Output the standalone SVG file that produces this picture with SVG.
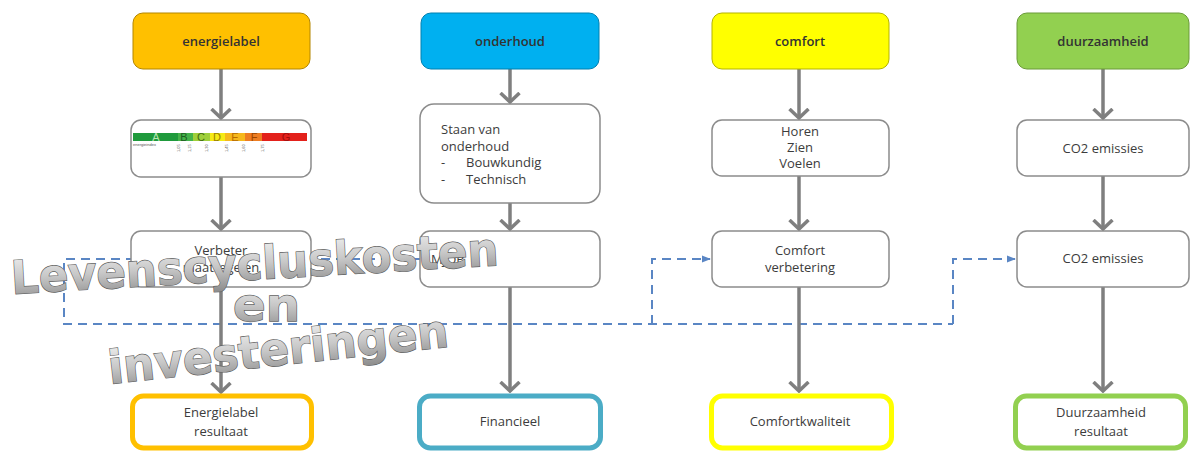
<svg xmlns="http://www.w3.org/2000/svg" width="1195" height="452" viewBox="0 0 1195 452">
<defs>
<style>
.t{font-family:"Open Sans","Liberation Sans",sans-serif;font-size:13px;fill:#3c3c3c;text-anchor:middle}
.tl{font-family:"Open Sans","Liberation Sans",sans-serif;font-size:13px;fill:#3c3c3c}
.hd{font-family:"Open Sans","Liberation Sans",sans-serif;font-size:13px;font-weight:600;fill:#333333;text-anchor:middle}
.box{fill:#ffffff;stroke:#8c8c8c;stroke-width:1.5}
.res{fill:#ffffff;stroke-width:5}
.arr{stroke:#7f7f7f;stroke-width:3.5;fill:none}
.dash{stroke:#5a86c4;stroke-width:2;stroke-dasharray:9 6;fill:none}
.wa{font-family:"DejaVu Sans","Liberation Sans",sans-serif;font-weight:bold;font-size:46px;fill:url(#wg);stroke:#5f5f5f;stroke-width:1.3;paint-order:stroke}
.num{font-family:"Liberation Sans",sans-serif;font-size:4px;fill:#555}
.lt{font-family:"Liberation Sans",sans-serif;font-size:11px;text-anchor:middle}
</style>
<linearGradient id="wg" x1="0" y1="0" x2="0" y2="1">
<stop offset="0" stop-color="#f4f4f4"/>
<stop offset="0.5" stop-color="#c8c8c8"/>
<stop offset="1" stop-color="#8a8a8a"/>
</linearGradient>
<marker id="chev" viewBox="0 0 12 22" refX="10.5" refY="11" markerWidth="12" markerHeight="22" markerUnits="userSpaceOnUse" orient="auto">
<path d="M1.5,1.5 L10.5,11 L1.5,20.5" fill="none" stroke="#7f7f7f" stroke-width="3.5"/>
</marker>
<marker id="tri" viewBox="0 0 10 10" refX="9" refY="5" markerWidth="9" markerHeight="9" markerUnits="userSpaceOnUse" orient="auto">
<path d="M0,1 L10,5 L0,9 Z" fill="#5a86c4"/>
</marker>
</defs>

<g id="connectors">
<path class="dash" d="M420,259 H64 V324 H953"/>
<path class="dash" d="M652,324 V259 H710" marker-end="url(#tri)"/>
<path class="dash" d="M953,324 V259 H1015" marker-end="url(#tri)"/>
<line class="arr" x1="221" y1="69" x2="221" y2="118" marker-end="url(#chev)"/>
<line class="arr" x1="221" y1="177" x2="221" y2="229" marker-end="url(#chev)"/>
<line class="arr" x1="221" y1="287" x2="221" y2="392" marker-end="url(#chev)"/>
<line class="arr" x1="510" y1="69" x2="510" y2="102" marker-end="url(#chev)"/>
<line class="arr" x1="510" y1="203" x2="510" y2="229" marker-end="url(#chev)"/>
<line class="arr" x1="510" y1="287" x2="510" y2="391" marker-end="url(#chev)"/>
<line class="arr" x1="799" y1="69" x2="799" y2="118" marker-end="url(#chev)"/>
<line class="arr" x1="799" y1="176" x2="799" y2="229" marker-end="url(#chev)"/>
<line class="arr" x1="799" y1="287" x2="799" y2="391" marker-end="url(#chev)"/>
<line class="arr" x1="1103" y1="69" x2="1103" y2="118" marker-end="url(#chev)"/>
<line class="arr" x1="1103" y1="176" x2="1103" y2="229" marker-end="url(#chev)"/>
<line class="arr" x1="1103" y1="287" x2="1103" y2="391" marker-end="url(#chev)"/>
</g>

<g id="energielabel">
<rect x="133" y="13" width="177" height="56" rx="10" fill="#ffc000" stroke="#b38600" stroke-width="1"/>
<text class="hd" x="221" y="46">energielabel</text>
</g>
<g id="onderhoud">
<rect x="421" y="13" width="178" height="56" rx="10" fill="#00b0f0" stroke="#0080b0" stroke-width="1"/>
<text class="hd" x="510" y="46">onderhoud</text>
</g>
<g id="comfort">
<rect x="712" y="13" width="177" height="56" rx="10" fill="#ffff00" stroke="#b3b300" stroke-width="1"/>
<text class="hd" x="800" y="46">comfort</text>
</g>
<g id="duurzaamheid">
<rect x="1017" y="13" width="172" height="56" rx="10" fill="#92d050" stroke="#6a9a38" stroke-width="1"/>
<text class="hd" x="1103" y="46">duurzaamheid</text>
</g>

<g id="labelschaal">
<rect class="box" x="131" y="120" width="180" height="57" rx="10"/>
<rect x="133" y="133" width="45" height="8" fill="#1f9a3c"/>
<rect x="178" y="133" width="15" height="8" fill="#45b34a"/>
<rect x="193" y="133" width="17" height="8" fill="#9fcf3a"/>
<rect x="210" y="133" width="15" height="8" fill="#f5ea14"/>
<rect x="225" y="133" width="20" height="8" fill="#f6b81c"/>
<rect x="245" y="133" width="17" height="8" fill="#ee7d22"/>
<rect x="262" y="133" width="45" height="8" fill="#e3211b"/>
<text class="lt" x="156" y="141" fill="#b8e6b0">A</text>
<text class="lt" x="184" y="141" fill="#1d5e20">B</text>
<text class="lt" x="201" y="141" fill="#3f6a10">C</text>
<text class="lt" x="217" y="141" fill="#9a7f00">D</text>
<text class="lt" x="235" y="141" fill="#b86a00">E</text>
<text class="lt" x="254" y="141" fill="#9c4400">F</text>
<text class="lt" x="286" y="141" fill="#9e0d0d">G</text>
<text class="num" x="133" y="146">energieindex</text>
<text class="num" transform="translate(180,152) rotate(-90)">1,05</text>
<text class="num" transform="translate(191,152) rotate(-90)">1,15</text>
<text class="num" transform="translate(208,152) rotate(-90)">1,30</text>
<text class="num" transform="translate(228,152) rotate(-90)">1,45</text>
<text class="num" transform="translate(245,152) rotate(-90)">1,60</text>
<text class="num" transform="translate(264,152) rotate(-90)">1,75</text>
</g>

<g id="staan">
<rect class="box" x="420" y="104" width="180" height="99" rx="14"/>
<text class="tl" x="441" y="134">Staan van</text>
<text class="tl" x="441" y="151">onderhoud</text>
<text class="tl" x="441" y="167">-</text>
<text class="tl" x="466" y="167">Bouwkundig</text>
<text class="tl" x="441" y="184">-</text>
<text class="tl" x="466" y="184">Technisch</text>
</g>
<g id="hzv">
<rect class="box" x="712" y="120" width="177" height="56" rx="10"/>
<text class="t" x="800" y="136">Horen</text>
<text class="t" x="800" y="152">Zien</text>
<text class="t" x="800" y="168">Voelen</text>
</g>
<g id="co2a">
<rect class="box" x="1017" y="120" width="172" height="56" rx="10"/>
<text class="t" x="1103" y="153">CO2 emissies</text>
</g>

<g id="verbeter">
<rect class="box" x="131" y="231" width="180" height="56" rx="10"/>
<text class="t" x="221" y="255">Verbeter</text>
<text class="t" x="221" y="272">maatregelen</text>
</g>
<g id="mjop">
<rect class="box" x="420" y="231" width="180" height="56" rx="10"/>
<text class="tl" x="431" y="264">MJOP</text>
</g>
<g id="comfortverb">
<rect class="box" x="712" y="231" width="177" height="56" rx="10"/>
<text class="t" x="800" y="255">Comfort</text>
<text class="t" x="800" y="272">verbetering</text>
</g>
<g id="co2b">
<rect class="box" x="1017" y="231" width="172" height="56" rx="10"/>
<text class="t" x="1103" y="263">CO2 emissies</text>
</g>

<g id="res-energie">
<rect class="res" x="132.5" y="396" width="179" height="52" rx="11" stroke="#ffc000"/>
<text class="t" x="221" y="417">Energielabel</text>
<text class="t" x="221" y="436">resultaat</text>
</g>
<g id="res-fin">
<rect class="res" x="419.5" y="396" width="181" height="52" rx="11" stroke="#4bacc6"/>
<text class="t" x="510" y="426">Financieel</text>
</g>
<g id="res-comfort">
<rect class="res" x="711.5" y="396" width="180" height="52" rx="11" stroke="#ffff00"/>
<text class="t" x="800" y="426">Comfortkwaliteit</text>
</g>
<g id="res-duurzaam">
<rect class="res" x="1015.5" y="396" width="170" height="52" rx="11" stroke="#92d050"/>
<text class="t" x="1101" y="417">Duurzaamheid</text>
<text class="t" x="1101" y="436">resultaat</text>
</g>

<g id="wordart">
<text class="wa" x="12" y="294" textLength="488" lengthAdjust="spacingAndGlyphs" transform="rotate(-3.4 12 294)">Levenscycluskosten</text>
<text class="wa" x="233" y="321" textLength="67" lengthAdjust="spacingAndGlyphs">en</text>
<text class="wa" x="110" y="384" textLength="342" lengthAdjust="spacingAndGlyphs" transform="rotate(-6.3 110 384)">investeringen</text>
</g>
</svg>
